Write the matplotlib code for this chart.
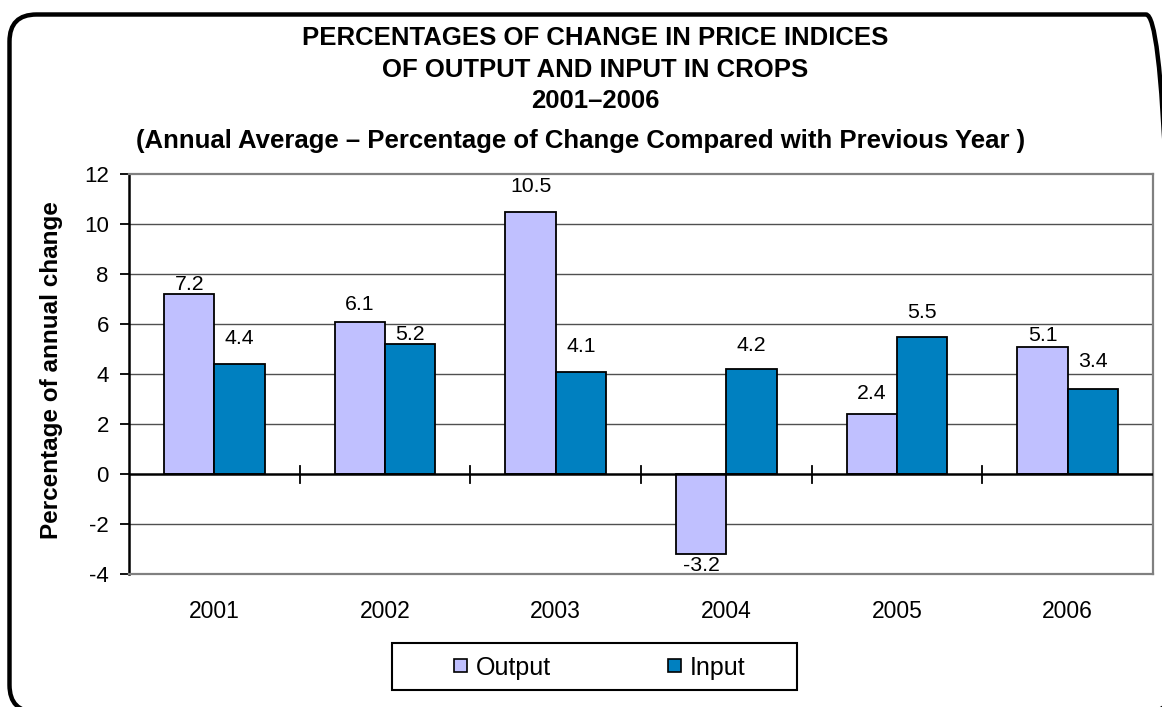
import matplotlib
matplotlib.use("Agg")
import matplotlib.pyplot as plt
import numpy as np
from matplotlib.patches import FancyBboxPatch, Rectangle
from matplotlib.transforms import IdentityTransform

years = ["2001", "2002", "2003", "2004", "2005", "2006"]
output_vals = [7.2, 6.1, 10.5, -3.2, 2.4, 5.1]
input_vals = [4.4, 5.2, 4.1, 4.2, 5.5, 3.4]
yticks = [-4, -2, 0, 2, 4, 6, 8, 10, 12]

# layout: label gap (pixels) between bar end and label glyphs
out_label_gap = [4, 12, 20, 4, 15, 6]
in_label_gap = [20, 4, 20, 18, 19, 22]

plt.rcParams['font.family'] = ['Liberation Sans', 'DejaVu Sans']

W, H = 1162, 707
fig = plt.figure(figsize=(W/100, H/100), dpi=100)

def fx(px):
    return px / W

def fy(py):
    return 1 - py / H

# outer rounded frame (pixel coordinates, y measured from bottom)
frame = FancyBboxPatch((9.5, H - 712), 1173 - 9.5, 712 - 14.5,
                       boxstyle="round,pad=0,rounding_size=27",
                       transform=IdentityTransform(), fill=False, lw=3.2,
                       edgecolor='black')
fig.patches.append(frame)

L, R, T, B = 129, 1153, 174, 574
ax = fig.add_axes([fx(L), fy(B), (R - L)/W, (B - T)/H])

x = np.arange(len(years))
bw = 50/170
ax.bar(x - bw/2, output_vals, bw, color='#C0C0FF', edgecolor='black', lw=1.3, label='Output', zorder=3)
ax.bar(x + bw/2, input_vals, bw, color='#0080C0', edgecolor='black', lw=1.3, label='Input', zorder=3)

lab_fs = 15.3
for xi, v, g in zip(x - bw/2, output_vals, out_label_gap):
    if v >= 0:
        ax.annotate(f"{v:.1f}", (xi, v), xytext=(0, g), textcoords='offset pixels',
                    ha='center', va='baseline', fontsize=lab_fs)
    else:
        ax.annotate(f"{v:.1f}", (xi, v), xytext=(0, -g + 2), textcoords='offset pixels',
                    ha='center', va='top', fontsize=lab_fs)
for xi, v, g in zip(x + bw/2, input_vals, in_label_gap):
    ax.annotate(f"{v:.1f}", (xi, v), xytext=(0, g), textcoords='offset pixels',
                ha='center', va='baseline', fontsize=lab_fs)

ax.set_xlim(-0.5, len(years) - 0.5)
ax.set_ylim(-4, 12)
ax.set_yticks(yticks)
ax.set_yticklabels([str(t) for t in yticks], fontsize=16)
for t in yticks[1:-1]:
    if t != 0:
        ax.axhline(t, color='#505050', lw=1.0, zorder=1)
ax.axhline(0, color='black', lw=1.8, zorder=4)
# category boundary ticks on zero line
for b in np.arange(0.5, len(years) - 0.5, 1):
    ax.plot([b, b], [-0.34, 0.34], color='black', lw=1.3, zorder=4, clip_on=False)

ax.set_xticks(x)
ax.set_xticklabels(years, fontsize=16.5)
ax.tick_params(axis='x', length=0, pad=19)
ax.tick_params(axis='y', length=6.5, width=1.3, direction='out', pad=8)

for s in ['top', 'right', 'bottom']:
    ax.spines[s].set_color('#808080')
    ax.spines[s].set_linewidth(1.6)
ax.spines['left'].set_color('black')
ax.spines['left'].set_linewidth(1.8)

fig.text(fx(52), fy(370.5), "Percentage of annual change", rotation=90,
         ha='center', va='center', fontsize=17.5, fontweight='bold')

title_lines = [("PERCENTAGES OF CHANGE IN PRICE INDICES", 595, 45),
               ("OF OUTPUT AND INPUT IN CROPS", 595, 77),
               ("2001\u20132006", 595, 108),
               ("(Annual Average \u2013 Percentage of Change Compared with Previous Year )", 581, 148)]
for txt, xx, yy in title_lines:
    fig.text(fx(xx), fy(yy), txt, ha='center', va='baseline', fontsize=18.5, fontweight='bold')

# legend
fig.patches.append(Rectangle((fx(392), fy(690)), (797 - 392)/W, (690 - 643)/H,
                             transform=fig.transFigure, fill=False, lw=1.5, edgecolor='black'))
leg_items = [("Output", '#C0C0FF', 454, 476), ("Input", '#0080C0', 668, 690)]
for name, col, mx, tx in leg_items:
    fig.patches.append(Rectangle((fx(mx), fy(672)), 13/W, 13/H, transform=fig.transFigure,
                                 facecolor=col, edgecolor='black', lw=1.2))
    fig.text(fx(tx), fy(675), name, ha='left', va='baseline', fontsize=18)

fig.savefig("out.png", dpi=100)
